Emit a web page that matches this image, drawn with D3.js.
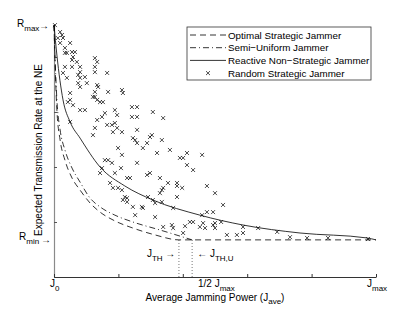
<!DOCTYPE html>
<html>
<head>
<meta charset="utf-8">
<script src="https://cdn.jsdelivr.net/npm/d3@7"></script>
<style>
body { margin: 0; background: #fff; }
text { font-family: "Liberation Sans", Arial, sans-serif; fill: #000; }
</style>
</head>
<body>
<div id="chart"></div>
<script>
// axis ticks (normalised units)
var xTicks = [0, 0.2, 0.4, 0.6, 0.8, 1];
var yTicks = [0, 0.2, 0.4, 0.6, 0.8];
var R_MAX = 0.916, R_MIN = 0.135, Y_TOP = 0.92;
var J_TH = 0.388, J_THU = 0.429;

// optimal strategic jammer (dashed)
var optX = [0, 0.003, 0.009, 0.019, 0.034, 0.056, 0.081, 0.112, 0.143, 0.189, 0.245, 0.314, 0.388, 1];
var optY = [0.916, 0.789, 0.607, 0.498, 0.425, 0.36, 0.316, 0.269, 0.236, 0.204, 0.178, 0.153, 0.135, 0.135];

// semi-uniform jammer (dash-dot)
var semiX = [0, 0.003, 0.009, 0.019, 0.034, 0.056, 0.081, 0.112, 0.143, 0.189, 0.245, 0.329, 0.429];
var semiY = [0.916, 0.807, 0.644, 0.535, 0.462, 0.396, 0.345, 0.287, 0.255, 0.225, 0.2, 0.171, 0.135];

// reactive non-strategic jammer (solid)
var reactX = [0, 0.009, 0.028, 0.05, 0.081, 0.143, 0.22, 0.307, 0.453, 0.587, 0.764, 0.972, 1];
var reactY = [0.916, 0.807, 0.644, 0.564, 0.505, 0.4, 0.331, 0.28, 0.225, 0.189, 0.16, 0.142, 0.135];

// random strategic jammer samples
var randX = [0.003,0.019,0.025,0.012,0.028,0.019,0.034,0.050,0.040,0.056,0.065,0.059,0.034,0.034,0.056,0.071,0.056,0.081,0.081,0.075,
  0.127,0.134,0.127,0.127,0.165,0.028,0.040,0.081,0.096,0.102,0.075,0.081,0.050,0.211,0.214,0.168,0.137,0.127,0.134,0.121,
  0.127,0.134,0.143,0.152,0.050,0.043,0.059,0.096,0.081,0.189,0.196,0.242,0.258,0.307,0.158,0.149,0.134,0.127,0.242,0.258,
  0.339,0.180,0.165,0.189,0.196,0.183,0.211,0.258,0.121,0.245,0.298,0.304,0.050,0.252,0.258,0.289,0.276,0.335,0.199,0.211,
  0.320,0.360,0.391,0.401,0.413,0.413,0.432,0.460,0.158,0.168,0.180,0.258,0.149,0.143,0.189,0.208,0.227,0.236,0.289,0.298,
  0.329,0.354,0.382,0.398,0.335,0.329,0.339,0.174,0.183,0.199,0.211,0.220,0.227,0.214,0.245,0.273,0.276,0.292,0.307,0.314,
  0.335,0.382,0.382,0.475,0.500,0.525,0.475,0.494,0.252,0.314,0.339,0.366,0.370,0.407,0.422,0.432,0.453,0.463,0.494,0.500,
  0.500,0.587,0.634,0.693,0.537,0.568,0.587,0.733,0.460,0.469,0.519,0.786,0.851,0.975,0.227,0.370,0.401];
var randY = [0.916,0.891,0.880,0.869,0.869,0.851,0.833,0.851,0.815,0.818,0.818,0.800,0.815,0.764,0.789,0.782,0.764,0.764,0.745,0.735,
  0.796,0.782,0.764,0.745,0.742,0.742,0.724,0.724,0.727,0.705,0.705,0.691,0.669,0.680,0.669,0.673,0.691,0.673,0.698,0.655,
  0.655,0.644,0.636,0.636,0.644,0.636,0.625,0.607,0.607,0.607,0.589,0.618,0.618,0.600,0.596,0.582,0.571,0.542,0.582,0.582,
  0.578,0.553,0.553,0.560,0.542,0.527,0.527,0.535,0.516,0.505,0.509,0.516,0.564,0.498,0.487,0.487,0.469,0.498,0.469,0.444,
  0.451,0.462,0.433,0.433,0.451,0.407,0.389,0.444,0.425,0.425,0.415,0.415,0.396,0.378,0.378,0.396,0.360,0.360,0.371,0.378,
  0.360,0.342,0.342,0.324,0.316,0.305,0.324,0.342,0.324,0.324,0.316,0.291,0.287,0.280,0.255,0.255,0.251,0.291,0.280,0.269,
  0.273,0.291,0.331,0.331,0.305,0.262,0.236,0.236,0.225,0.218,0.182,0.189,0.178,0.185,0.200,0.200,0.182,0.196,0.189,0.196,
  0.178,0.182,0.178,0.164,0.153,0.153,0.160,0.145,0.225,0.178,0.200,0.142,0.142,0.138,0.273,0.251,0.160];

var legendLabels = ["Optimal Strategic Jammer", "Semi\u2212Uniform Jammer", "Reactive Non\u2212Strategic Jammer", "Random Strategic Jammer"];

var W = 415, H = 312;
var x = d3.scaleLinear().domain([0, 1]).range([54, 376]);
var y = d3.scaleLinear().domain([0, 1]).range([277, 2]);

var svg = d3.select("#chart").append("svg")
    .attr("width", W)
    .attr("height", H);

// axes: only left and bottom, ticks pointing inward, no numbers
var yAxisScale = y.copy().domain([0, Y_TOP]).range([y(0), y(Y_TOP)]);
svg.append("g")
    .attr("transform", "translate(" + x(0) + ",0)")
    .call(d3.axisRight(yAxisScale).tickValues(yTicks).tickFormat("").tickSize(3).tickSizeOuter(0))
    .call(function(g) {
        g.select(".domain").attr("stroke", "#8a8a8a").attr("stroke-width", 1.2);
        g.selectAll(".tick line").attr("stroke", "#555");
    });

svg.append("g")
    .attr("transform", "translate(0," + y(0) + ")")
    .call(d3.axisTop(x).tickValues(xTicks).tickFormat("").tickSize(3).tickSizeOuter(0))
    .call(function(g) {
        g.select(".domain").attr("stroke", "#333");
        g.selectAll(".tick line").attr("stroke", "#333");
    });

function zipped(xs, ys) { return xs.map(function(v, i) { return [v, ys[i]]; }); }

var line = d3.line()
    .x(function(d) { return x(d[0]); })
    .y(function(d) { return y(d[1]); })
    .curve(d3.curveMonotoneX);

// threshold markers
[J_TH, J_THU].forEach(function(j) {
    svg.append("line")
        .attr("x1", x(j)).attr("x2", x(j))
        .attr("y1", y(0)).attr("y2", y(R_MIN))
        .attr("stroke", "#555").attr("stroke-width", 0.8)
        .attr("stroke-dasharray", "1,2");
});

svg.append("path")
    .attr("d", line(zipped(reactX, reactY)))
    .attr("fill", "none").attr("stroke", "#000").attr("stroke-width", 0.8);

svg.append("path")
    .attr("d", line(zipped(semiX, semiY)))
    .attr("fill", "none").attr("stroke", "#000").attr("stroke-width", 0.8)
    .attr("stroke-dasharray", "6,3,1,3");

svg.append("path")
    .attr("d", line(zipped(optX, optY)))
    .attr("fill", "none").attr("stroke", "#000").attr("stroke-width", 0.8)
    .attr("stroke-dasharray", "6,4");

var cross = d3.symbol().type(d3.symbolTimes).size(12);
svg.selectAll(null)
    .data(zipped(randX, randY))
    .enter()
    .append("path")
    .attr("d", cross)
    .attr("transform", function(d) { return "translate(" + x(d[0]) + "," + y(d[1]) + ")"; })
    .attr("fill", "none")
    .attr("stroke", "#000")
    .attr("stroke-width", 0.7);

// labels with subscripts
function subLabel(px, py, main, sub, anchor, size) {
    var t = svg.append("text")
        .attr("x", px).attr("y", py)
        .attr("text-anchor", anchor || "start")
        .style("font-size", (size || 10) + "px");
    t.append("tspan").text(main);
    t.append("tspan").attr("dy", 4).style("font-size", "8px").text(sub);
    return t;
}

subLabel(17, 27, "R", "max");
svg.append("text").attr("x", 39).attr("y", y(R_MAX) + 3.5).style("font-size", "10px").text("\u2192");
subLabel(19, 240, "R", "min");
svg.append("text").attr("x", 41).attr("y", y(R_MIN) + 3.5).style("font-size", "10px").text("\u2192");

subLabel(x(0) - 4, 287, "J", "0");
subLabel(x(0.5) - 17, 287, "1/2 J", "max");
subLabel(x(1) - 9, 287, "J", "max");

var lt = subLabel(x(J_TH) - 32, 257, "J", "TH");
lt.append("tspan").attr("dy", -4).text(" \u2192");
var ru = svg.append("text").attr("x", x(J_THU) + 5).attr("y", 257).style("font-size", "10px");
ru.append("tspan").text("\u2190 J");
ru.append("tspan").attr("dy", 4).style("font-size", "8px").text("TH,U");

var xl = svg.append("text")
    .attr("x", x(0.5)).attr("y", 301)
    .attr("text-anchor", "middle")
    .style("font-size", "10px");
xl.append("tspan").text("Average Jamming Power (J");
xl.append("tspan").attr("dy", 3).style("font-size", "8px").text("ave");
xl.append("tspan").attr("dy", -3).text(")");

svg.append("text")
    .attr("transform", "translate(42," + 150 + ") rotate(-90)")
    .attr("text-anchor", "middle")
    .style("font-size", "10px")
    .text("Expected Transmission Rate at the NE");

// legend
var lg = svg.append("g").attr("transform", "translate(187,27)");
lg.append("rect").attr("width", 184).attr("height", 53)
    .attr("fill", "#fff").attr("stroke", "#333").attr("stroke-width", 0.8);
var dashes = ["6,4", "6,3,1,3", null];
legendLabels.forEach(function(lab, i) {
    var cy = 8 + i * 12.7;
    if (i < 3) {
        lg.append("line").attr("x1", 3).attr("x2", 39).attr("y1", cy).attr("y2", cy)
            .attr("stroke", "#000").attr("stroke-width", 0.8)
            .attr("stroke-dasharray", dashes[i]);
    } else {
        lg.append("path").attr("d", cross)
            .attr("transform", "translate(21," + cy + ")")
            .attr("fill", "none").attr("stroke", "#000").attr("stroke-width", 0.7);
    }
    lg.append("text").attr("x", 41).attr("y", cy + 3.5)
        .style("font-size", "9.8px").text(lab);
});
</script>
</body>
</html>
